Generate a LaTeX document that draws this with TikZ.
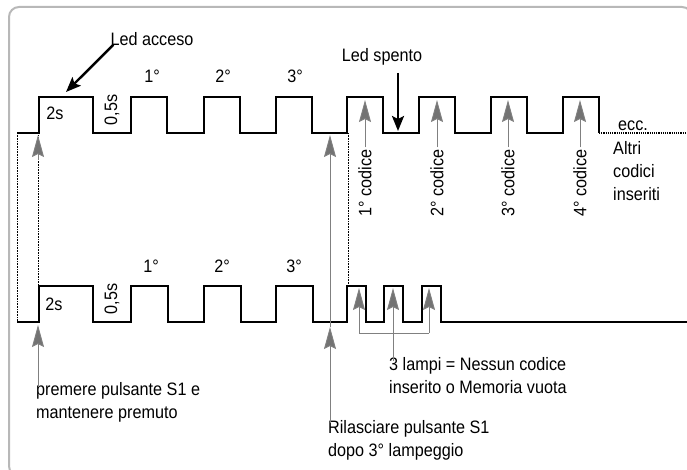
\documentclass[tikz,border=0pt]{standalone}
\usepackage{fontspec}
\setmainfont[FakeStretch=0.9]{Liberation Sans}
\usetikzlibrary{arrows.meta}

\begin{document}
\begin{tikzpicture}[x=1pt,y=-1pt,
  every node/.style={font=\fontsize{18}{23}\selectfont,inner sep=0pt},
  wave/.style={line width=2.8pt,line join=miter},
  frame/.style={draw=black!28,line width=2pt,rounded corners=10pt},
  grayarrow/.style={draw=black!50,line width=0.9pt,-{Stealth[length=22pt,width=12pt,inset=3pt,fill=black!55]}},
  blackarrow/.style={line width=2.4pt,-{Stealth[length=15pt,width=12pt,inset=3pt]}},
  guide/.style={densely dotted,line width=0.6pt}]
  \useasboundingbox (0,0) rectangle (687,470);
  \draw[frame] (9,7) rectangle (692,476);

  % upper trace: start, 2s, pause, three flashes, then the codes
  \coordinate (topstart) at (17,133);
  \coordinate (topend) at (599,133);
  \draw[wave] (topstart) -| (39,97) -| (93,133)
    foreach \x in {131,204,276,347,419,491,563} { -| (\x,97) -| (\x+36,133) };
  \draw[guide,line width=1.2pt] (topend) -- (687,133);

  % lower trace: same start, then three short flashes
  \coordinate (botstart) at (17,322);
  \draw[wave] (botstart) -| (39,286) -| (93,322)
    foreach \x in {131,204,276} { -| (\x,286) -| (\x+37,322) }
    foreach \x in {347,384,422} { -| (\x,286) -| (\x+19,322) } -- (687,322);

  \node (t2s) at (55,113) {2s};
  \node[rotate=90] (t05) at (112,110) {0,5s};
  \node (tuno) at (152,76) {1°};
  \node (tdue) at (223,76) {2°};
  \node (ttre) at (295,76) {3°};
  \node (b2s) at (54,304) {2s};
  \node[rotate=90] (b05) at (112,299) {0,5s};
  \node (buno) at (151,266) {1°};
  \node (bdue) at (222,266) {2°};
  \node (btre) at (294,266) {3°};

  % led labels
  \node (acceso) at (152,39) {Led acceso};
  \coordinate (accesotip) at (66,92);
  \draw[blackarrow] ([xshift=3pt,yshift=1pt]acceso.south west) -- (accesotip);
  \node (spento) at (382,57) {Led spento};
  \coordinate (spentotail) at (398,73);
  \coordinate (spentotip) at (398,131);
  \draw[blackarrow] (spentotail) -- (spentotip);

  % codes
  \foreach \i/\x in {1/365,2/437,3/508,4/580} {
    \node[rotate=90,inner sep=2pt] (cod\i) at (\x,183) {\i° codice};
    \coordinate (codtip\i) at (\x,100);
    \draw[grayarrow] (cod\i.east) -- (codtip\i);
  }
  \node (ecc) at (633,126) {ecc.};
  \node[align=left,anchor=north west] (altri) at (613,141) {Altri\\codici\\inseriti};

  % guides between the traces
  \draw[guide] (topstart) -- (botstart);
  \coordinate (presstop) at (38,135);
  \coordinate (pressbot) at (38,286);
  \draw[guide] (pressbot) -- (presstop);
  \draw[grayarrow] (38,160) -- (presstop);
  \coordinate (codstart) at (348,133);
  \coordinate (codbot) at (348,286);
  \draw[guide] (codstart) -- (codbot);

  % press S1
  \node[align=left,anchor=north west] (premi) at (36,382) {premere pulsante S1 e\\mantenere premuto};
  \coordinate (presstip) at (38,325);
  \draw[grayarrow] ([yshift=-5pt]presstip |- premi.north) -- (presstip);

  % release S1
  \node[align=left,anchor=north west] (rilascia) at (328,420) {Rilasciare pulsante S1\\dopo 3° lampeggio};
  \coordinate (relbot) at (330,327);
  \coordinate (reltop) at (330,135);
  \draw[grayarrow] ([yshift=-3pt]relbot |- rilascia.north) -- (relbot);
  \draw[grayarrow] (relbot) -- (reltop);

  % three flashes
  \node[align=left,anchor=north west] (lampi) at (389,357) {3 lampi = Nessun codice\\inserito o Memoria vuota};
  \coordinate (lampoA) at (359,288);
  \coordinate (lampoB) at (393,288);
  \coordinate (lampoC) at (429,288);
  \coordinate (bracketA) at (359,333);
  \coordinate (bracketC) at (429,333);
  \draw[draw=black!50,line width=0.9pt] (bracketA) -- (bracketC);
  \draw[grayarrow] (bracketA) -- (lampoA);
  \draw[grayarrow] (bracketC) -- (lampoC);
  \draw[grayarrow] ([yshift=-4pt]lampoB |- lampi.north) -- (lampoB);
\end{tikzpicture}
\end{document}
